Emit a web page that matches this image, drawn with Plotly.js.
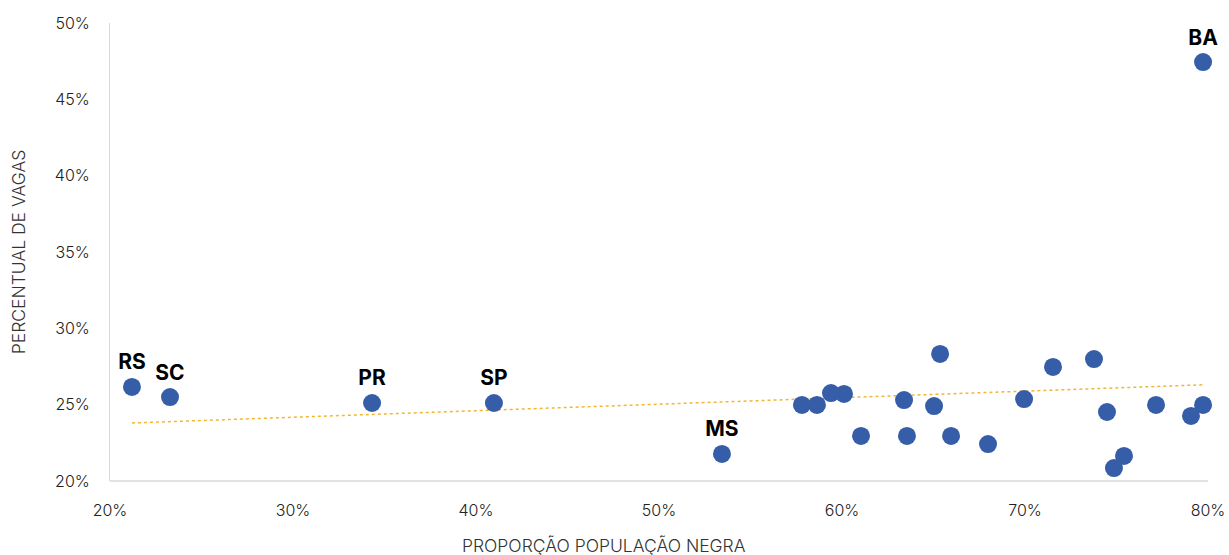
<!DOCTYPE html>
<html>
<head>
<meta charset="utf-8">
<script src="https://cdn.plot.ly/plotly-3.0.1.min.js"></script>
<style>html,body{margin:0;padding:0;background:#fff}#chart{width:1229px;height:555px}</style>
</head>
<body>
<div id="chart"></div>
<script>
// Proporção população negra (%)
const popNegra = [79.73, 21.2, 23.28, 34.32, 40.98, 53.44,
  57.81, 58.63, 59.4, 60.11, 61.04, 63.39, 63.55, 65.03, 65.36, 65.96,
  67.98, 69.95, 71.53, 73.77, 74.48, 74.86, 75.41, 77.16, 79.07, 79.73];
// Percentual de vagas (%)
const vagas = [47.44, 26.16, 25.5, 25.11, 25.11, 21.77,
  24.98, 24.98, 25.76, 25.7, 22.95, 25.3, 22.95, 24.91, 28.32, 22.95,
  22.42, 25.37, 27.47, 27.99, 24.52, 20.85, 21.64, 24.98, 24.26, 24.98];
// Rótulos
const rotulos = ['BA', 'RS', 'SC', 'PR', 'SP', 'MS',
  '', '', '', '', '', '', '', '', '', '', '', '', '', '', '', '', '', '', '', ''];
const xTicks = [20, 30, 40, 50, 60, 70, 80];
const yTicks = [20, 25, 30, 35, 40, 45, 50];

// linear trendline (least squares) computed from data
const n = popNegra.length;
const mx = popNegra.reduce((a, b) => a + b, 0) / n;
const my = vagas.reduce((a, b) => a + b, 0) / n;
let sxy = 0, sxx = 0;
for (let i = 0; i < n; i++) { sxy += (popNegra[i] - mx) * (vagas[i] - my); sxx += (popNegra[i] - mx) ** 2; }
const slope = sxy / sxx, icpt = my - slope * mx;
const xmin = Math.min(...popNegra), xmax = Math.max(...popNegra);
const trendX = [xmin, xmax];
const trendY = trendX.map(v => icpt + slope * v);

const tickFont = {family: 'Inter, "Noto Sans", sans-serif', size: 16, color: '#222222', weight: 300};
const titleFont = {family: 'Inter, "Noto Sans", sans-serif', size: 17.5, color: '#333333', weight: 300};

const data = [
  {x: trendX, y: trendY, mode: 'lines', type: 'scatter', hoverinfo: 'skip',
   line: {color: '#F2B632', width: 1.5, dash: 'dot'}, showlegend: false},
  {x: popNegra, y: vagas, mode: 'markers+text', type: 'scatter', text: rotulos,
   textposition: 'top center', cliponaxis: false,
   textfont: {family: 'Inter, "Open Sans", sans-serif', size: 21, color: '#000', weight: 700},
   marker: {color: '#365DA8', size: 18}, showlegend: false}
];

const layout = {
  width: 1229, height: 555,
  margin: {l: 110, r: 21, t: 23, b: 74},
  paper_bgcolor: '#fff', plot_bgcolor: '#fff',
  xaxis: {range: [20, 80], tickvals: xTicks, ticktext: xTicks.map(v => v + '%'),
    showgrid: false, zeroline: false, showline: false, ticks: '',
    tickfont: tickFont, ticklabelstandoff: 18},
  yaxis: {range: [20, 50], tickvals: yTicks, ticktext: yTicks.map(v => v + '%'),
    showgrid: false, zeroline: false, showline: true, linecolor: '#d9d9d9', linewidth: 1,
    ticks: '', tickfont: tickFont, ticklabelstandoff: 16,
    title: {text: 'PERCENTUAL DE VAGAS', font: titleFont, standoff: 24}},
  shapes: [{type: 'line', xref: 'paper', yref: 'paper', x0: 0, x1: 1, y0: 0, y1: 0,
    line: {color: '#d9d9d9', width: 1.5}}],
  annotations: [{text: 'PROPORÇÃO POPULAÇÃO NEGRA', xref: 'paper', yref: 'paper',
    x: (604 - 110) / 1098, y: 0, yshift: -64, showarrow: false, xanchor: 'center', yanchor: 'middle',
    font: titleFont}]
};

Plotly.newPlot('chart', data, layout, {displayModeBar: false, staticPlot: true});
</script>
</body>
</html>
